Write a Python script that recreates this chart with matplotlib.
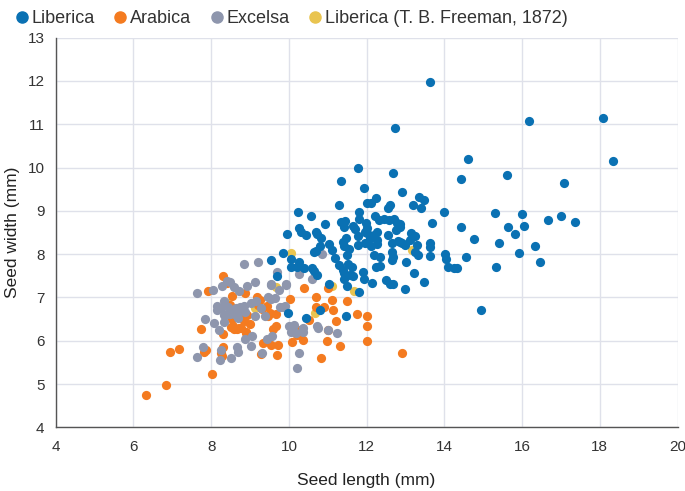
import matplotlib
matplotlib.use("Agg")
import matplotlib.pyplot as plt
from matplotlib.lines import Line2D

plt.rcParams['font.family'] = ['Liberation Sans', 'DejaVu Sans']

# Liberica (blue)
liberica_x = [13.63, 16.19, 18.09, 14.61, 18.33, 14.43, 15.61, 17.07, 12.91, 13.35, 13.47, 13.19, 13.39,
              13.98, 15.31, 16.00, 16.67, 17.00, 17.36, 12.86, 13.67, 14.43, 15.65, 16.05, 15.82, 14.76,
              15.41, 16.32, 15.92, 16.45, 15.32, 14.94, 14.57, 14.01, 14.04, 14.10, 14.26, 14.33, 13.63,
              13.63, 13.63, 13.14, 13.24, 13.12, 12.86, 12.98, 13.29, 13.25, 13.31, 13.01, 13.23, 13.47,
              12.99,
              12.74, 11.77, 12.69, 11.34, 11.93, 11.28, 12.00, 12.11, 12.25, 12.55, 12.60, 10.24, 10.57,
              11.80, 11.35, 11.45, 11.80, 10.93, 10.27, 10.32, 10.45, 9.94, 10.69, 10.73, 10.82, 11.64,
              11.71, 11.98, 12.00, 11.96, 12.22, 12.32, 12.46, 12.57, 12.70, 12.79, 12.85, 11.46, 11.40,
              11.79, 12.01, 12.09, 12.18, 12.28, 12.26, 11.97, 12.11, 12.28, 12.55, 12.76, 12.66, 12.82,
              12.90, 11.77, 10.79, 11.04, 11.10, 10.64, 11.41, 11.54, 11.50, 11.19, 11.29, 11.52, 11.63,
              11.43, 11.57, 12.20, 12.34, 12.24, 12.34, 12.66, 12.69, 12.66, 11.90, 11.92, 11.64, 12.14,
              12.51, 12.61, 12.67, 11.50, 11.80, 9.86, 9.53, 10.05, 10.05, 10.26, 10.22, 10.39, 10.60,
              10.65, 10.73, 11.04, 11.46, 10.80, 9.98, 11.42, 10.70, 11.43, 11.39, 9.70, 10.45]
liberica_y = [11.97, 11.08, 11.15, 10.19, 10.15, 9.73, 9.82, 9.65, 9.44, 9.33, 9.24, 9.14, 9.07,
              8.98, 8.95, 8.93, 8.78, 8.88, 8.75, 8.70, 8.73, 8.62, 8.62, 8.64, 8.47, 8.35,
              8.25, 8.18, 8.03, 7.81, 7.70, 6.70, 7.94, 8.01, 7.88, 7.71, 7.69, 7.69, 8.26,
              8.16, 7.96, 8.48, 8.42, 8.33, 8.29, 8.21, 8.21, 8.04, 7.98, 7.81, 7.56, 7.35,
              7.20,
              10.92, 10.00, 9.87, 9.70, 9.52, 9.13, 9.19, 9.18, 9.30, 9.06, 9.13, 8.97, 8.88,
              8.98, 8.74, 8.77, 8.81, 8.69, 8.60, 8.52, 8.44, 8.47, 8.52, 8.46, 8.38, 8.65,
              8.58, 8.73, 8.61, 8.51, 8.88, 8.79, 8.82, 8.79, 8.82, 8.71, 8.62, 8.37, 8.27,
              8.42, 8.48, 8.38, 8.44, 8.51, 8.33, 8.25, 8.19, 8.24, 8.45, 8.55, 8.25, 8.31,
              8.25, 8.21, 8.19, 8.24, 8.10, 8.05, 8.18, 8.12, 7.98, 7.91, 7.75, 7.78, 7.71,
              7.57, 7.52, 7.97, 7.94, 7.71, 7.73, 8.06, 7.93, 7.87, 7.59, 7.42, 7.50, 7.33,
              7.41, 7.30, 7.31, 7.26, 7.13, 8.02, 7.87, 7.88, 7.71, 7.81, 7.71, 7.68, 7.69,
              7.60, 7.52, 7.32, 6.57, 6.70, 6.65, 8.63, 8.08, 7.43, 7.63, 7.50, 6.52]

# Arabica (orange)
arabica_x = [6.32, 6.85, 6.95, 7.17, 8.02, 7.73, 7.82, 7.87, 7.93, 8.31, 8.30, 8.26, 8.27, 8.31, 8.41,
             8.54, 8.49, 8.50, 8.54, 8.51, 8.59, 8.66, 8.72, 8.84, 8.88, 8.89, 9.01, 9.19, 8.93, 8.67,
             9.28, 9.26, 9.20, 9.44, 9.32, 8.56, 8.77, 8.76, 8.90, 9.52, 9.67, 9.68, 9.58, 9.47, 9.34,
             9.53, 9.71, 9.70, 10.04, 10.39, 10.70, 11.00, 11.10, 10.69, 10.90, 11.14, 11.49, 11.00,
             10.97, 11.31, 11.75, 12.01, 12.01, 12.01, 10.09, 10.24, 10.22, 11.21, 10.82, 12.91, 10.37,
             10.53, 8.83]
arabica_y = [4.75, 4.97, 5.74, 5.81, 5.24, 6.28, 5.73, 5.79, 7.15, 7.50, 5.85, 5.71, 5.64, 6.16, 7.33,
             7.04, 6.83, 6.64, 6.50, 6.31, 6.28, 6.27, 6.30, 6.45, 7.10, 6.19, 6.39, 7.00, 6.59, 6.70,
             5.70, 6.94, 6.82, 6.81, 6.73, 6.33, 6.54, 6.30, 6.18, 6.64, 6.61, 6.33, 6.27, 6.56, 5.94,
             5.91, 5.89, 5.68, 6.97, 7.21, 7.00, 7.21, 6.94, 6.78, 6.77, 6.71, 6.91, 6.24,
             6.00, 5.87, 6.61, 6.56, 6.33, 6.00, 5.97, 6.25, 6.14, 6.45, 5.61, 5.71, 6.02,
             6.48, 6.67]

# Excelsa (grey)
excelsa_x = [7.64, 7.64, 7.78, 7.83, 8.04, 8.08, 8.14, 8.14, 8.21, 8.25, 8.23, 8.27, 8.32, 8.34, 8.34,
             8.40, 8.49, 8.52, 8.49, 8.60, 8.66, 8.68, 8.71, 8.64, 8.70, 8.75, 8.85, 8.88, 8.92, 9.03,
             9.03, 9.12, 9.14, 9.20, 9.15, 9.29, 9.45, 9.53, 9.55, 9.70, 9.75, 9.92, 9.64, 9.84, 10.26,
             10.60, 10.86, 8.25, 8.44, 8.35, 8.55, 8.66, 8.75, 8.85, 8.88, 8.63, 8.68, 9.38, 9.04, 9.43,
             9.56, 9.30, 9.77, 9.90, 10.01, 10.14, 10.05, 10.18, 10.36, 10.36, 10.27, 10.20, 10.72,
             11.24, 11.01, 10.76, 9.54, 9.92]
excelsa_y = [7.11, 5.63, 5.85, 6.51, 7.16, 6.41, 6.81, 6.70, 6.25, 5.79, 5.56, 7.27, 6.91, 6.44, 6.60,
             7.37, 7.35, 5.61, 6.61, 7.23, 5.85, 5.75, 7.14, 6.75, 6.66, 6.71, 7.77, 6.04, 7.26, 6.88,
             5.87, 7.35, 6.56, 7.81, 6.92, 6.75, 7.02, 6.96, 7.31, 7.58, 7.16, 7.28, 6.98, 6.79, 7.54,
             7.42, 8.01, 6.75, 6.77, 6.60, 6.64, 6.73, 6.79, 6.81, 6.67, 6.60, 6.52, 6.57, 6.10, 6.04,
             6.10, 5.71, 6.79, 6.81, 6.33, 6.37, 6.21, 6.18, 6.30, 6.21, 5.71, 5.37, 6.33,
             6.18, 6.25, 6.29, 7.29, 7.30]

# Liberica (T. B. Freeman, 1872) (yellow)
freeman_x = [10.05, 9.67, 11.12, 11.68, 13.18, 9.13, 10.67, 8.40]
freeman_y = [8.02, 7.23, 7.27, 7.14, 8.10, 6.75, 6.64, 6.88]

c_lib = '#0a71b3'
c_ara = '#f47b20'
c_exc = '#8e96ad'
c_fre = '#e9c450'

fig = plt.figure(figsize=(6.85, 4.91), dpi=100)
ax = fig.add_axes([0.0813, 0.1297, 0.9078, 0.7937])

s = 44
ax.scatter(freeman_x, freeman_y, s=s, color=c_fre, linewidths=0, zorder=3)
ax.scatter(arabica_x, arabica_y, s=s, color=c_ara, linewidths=0, zorder=3)
ax.scatter(excelsa_x, excelsa_y, s=s, color=c_exc, linewidths=0, zorder=3)
ax.scatter(liberica_x, liberica_y, s=s, color=c_lib, linewidths=0, zorder=3)

ax.set_xlim(4, 20)
ax.set_ylim(4, 13)
ax.set_xticks(range(4, 21, 2))
ax.set_yticks(range(4, 14))
ax.grid(True, color='#dfe1ea', linewidth=1.0, zorder=0)
ax.set_axisbelow(True)
for side in ['top', 'right']:
    ax.spines[side].set_visible(False)
for side in ['left', 'bottom']:
    ax.spines[side].set_color('#555555')
    ax.spines[side].set_linewidth(1.0)
ax.tick_params(length=0, labelsize=11, colors='#333333')
ax.tick_params(axis='x', pad=9)
ax.tick_params(axis='y', pad=8)
ax.set_xlabel('Seed length (mm)', fontsize=12.5, color='#222222', labelpad=14)
ax.set_ylabel('Seed width (mm)', fontsize=12.5, color='#222222')
ax.yaxis.set_label_coords(-0.058, 0.5)

handles = [Line2D([], [], marker='o', linestyle='', color=c, markersize=8)
           for c in [c_lib, c_ara, c_exc, c_fre]]
labels = ['Liberica', 'Arabica', 'Excelsa', 'Liberica (T. B. Freeman, 1872)']
fig.legend(handles, labels, loc='upper left', bbox_to_anchor=(-0.005, 1.012), ncol=4,
           frameon=False, fontsize=13, handletextpad=0.05, columnspacing=0.9,
           handlelength=1.0, labelcolor='#333333')

fig.savefig('out.png', dpi=100)
